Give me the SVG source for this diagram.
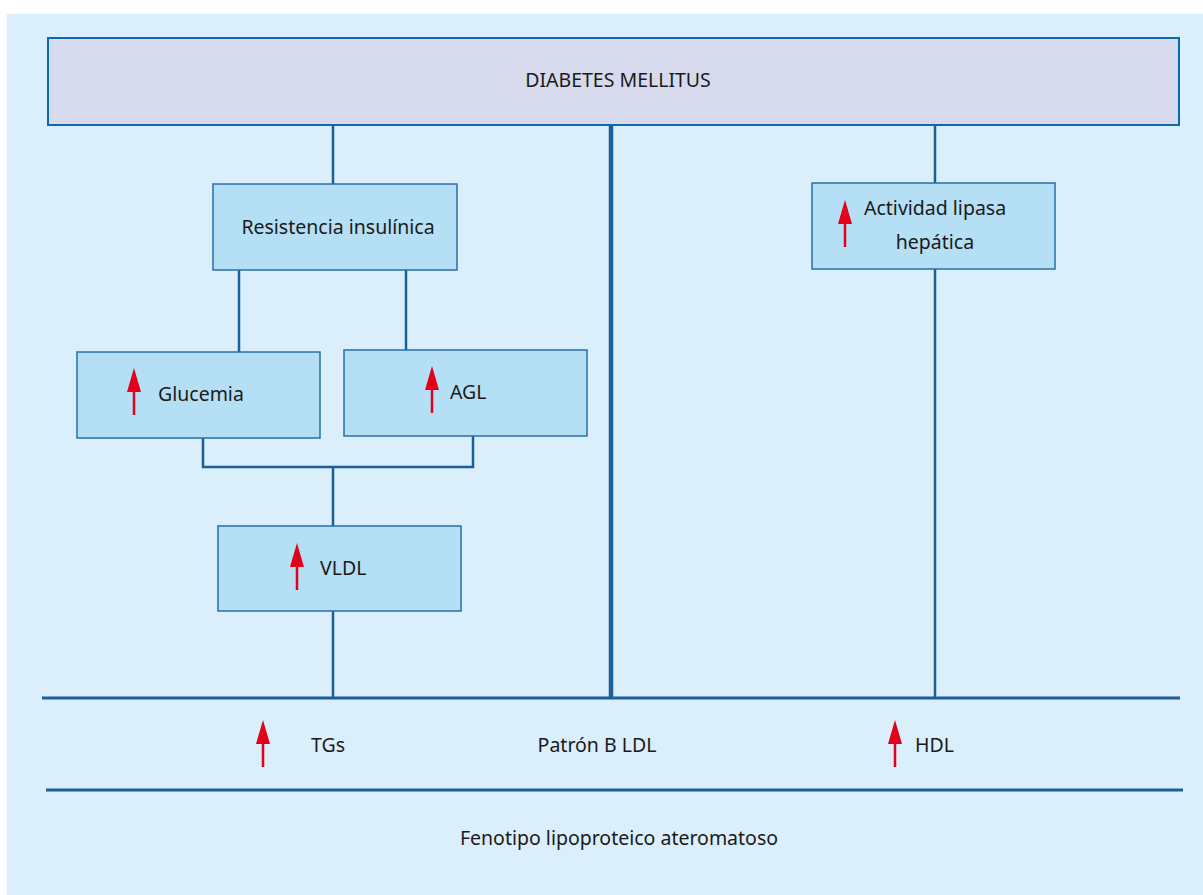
<svg xmlns="http://www.w3.org/2000/svg" width="1203" height="895" viewBox="0 0 1203 895">
<defs>
<style>
.panel{fill:#dbeefb}
.top{fill:#d6daec;stroke:#0a6aad;stroke-width:2}
.box{fill:#b5dff5;stroke:#2a6ea8;stroke-width:1.5}
.ln{fill:none;stroke:#1a5e9a;stroke-width:2.5}
.thick{fill:none;stroke:#1a5e9a;stroke-width:4.5}
.t{font-family:"Noto Sans","Open Sans","DejaVu Sans",sans-serif;font-size:19.5px;fill:#1a1a1a}
.c{text-anchor:middle}
.ar{stroke:#e2001a;stroke-width:2.5;fill:none}
.ah{fill:#e2001a}
</style>
<g id="uparrow">
<line class="ar" x1="0" y1="14" x2="0" y2="47"/>
<polygon class="ah" points="0,0 -7,24 7,24"/>
</g>
</defs>
<rect class="panel" x="7" y="14" width="1196" height="881"/>
<g id="connectors">
<line class="ln" x1="333" y1="125" x2="333" y2="184"/>
<line class="ln" x1="239" y1="270" x2="239" y2="352"/>
<line class="ln" x1="406" y1="270" x2="406" y2="350"/>
<polyline class="ln" points="203,438 203,467 473,467 473,436"/>
<line class="ln" x1="333" y1="467" x2="333" y2="526"/>
<line class="ln" x1="333" y1="611" x2="333" y2="698"/>
<line class="thick" x1="611" y1="125" x2="611" y2="698"/>
<line class="ln" x1="935" y1="125" x2="935" y2="183"/>
<line class="ln" x1="935" y1="269" x2="935" y2="698"/>
<line class="thick" x1="42" y1="698" x2="1180" y2="698" style="stroke-width:3"/>
<line class="thick" x1="46" y1="790" x2="1183" y2="790" style="stroke-width:3"/>
</g>
<g id="diabetes">
<rect class="top" x="48" y="38" width="1131" height="87"/>
<text class="t c" x="618" y="87">DIABETES MELLITUS</text>
</g>
<g id="resistencia">
<rect class="box" x="213" y="184" width="244" height="86"/>
<text class="t c" x="338" y="234">Resistencia insulínica</text>
</g>
<g id="glucemia">
<rect class="box" x="77" y="352" width="243" height="86"/>
<use href="#uparrow" x="134" y="368"/>
<text class="t" x="158" y="401">Glucemia</text>
</g>
<g id="agl">
<rect class="box" x="344" y="350" width="243" height="86"/>
<use href="#uparrow" x="432" y="366"/>
<text class="t" x="450" y="399">AGL</text>
</g>
<g id="vldl">
<rect class="box" x="218" y="526" width="243" height="85"/>
<use href="#uparrow" x="297" y="543"/>
<text class="t" x="320" y="575">VLDL</text>
</g>
<g id="lipasa">
<rect class="box" x="812" y="183" width="243" height="86"/>
<use href="#uparrow" x="845" y="200"/>
<text class="t" x="864" y="215">Actividad lipasa</text>
<text class="t c" x="935" y="249">hepática</text>
</g>
<g id="tgs">
<use href="#uparrow" x="263" y="720"/>
<text class="t" x="311" y="752">TGs</text>
</g>
<g id="ldl">
<text class="t c" x="597" y="752">Patrón B LDL</text>
</g>
<g id="hdl">
<use href="#uparrow" x="895" y="720"/>
<text class="t" x="915" y="752">HDL</text>
</g>
<g id="fenotipo">
<text class="t c" x="619" y="845">Fenotipo lipoproteico ateromatoso</text>
</g>
</svg>
